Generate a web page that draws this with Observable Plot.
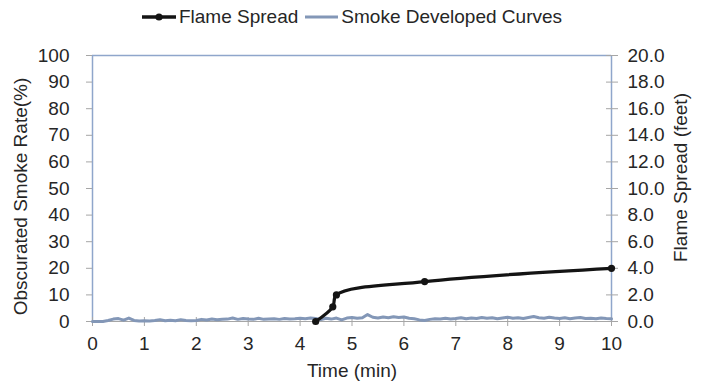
<!DOCTYPE html>
<html>
<head>
<meta charset="utf-8">
<script src="https://cdn.jsdelivr.net/npm/d3@7"></script>
<script src="https://cdn.jsdelivr.net/npm/@observablehq/plot@0.6"></script>
<style>
  body { margin: 0; background: #fff; font-family: "Liberation Sans", Arial, sans-serif; color: #262626; }
  #legend { width: 704px; height: 36px; display: flex; justify-content: center; align-items: center;
            padding-bottom: 3px; box-sizing: border-box; font-size: 19px; }
  #legend .item { display: flex; align-items: center; }
  #legend .item + .item { margin-left: 7px; }
  #legend svg { margin-right: 3px; }
</style>
</head>
<body>
<div id="legend"></div>
<div id="chart"></div>
<script>
// Elapsed test time (min) and obscured smoke rate (%)
const smokeTime = d3.range(0, 101).map(i => i / 10);
const smokeRate = [
  0, 0, 0, 0.4, 0.9, 1.1, 0.5, 1.3, 0.4, 0.2,
  0.3, 0.2, 0.4, 0.7, 0.3, 0.5, 0.3, 0.7, 0.4, 0.3,
  0.4, 0.8, 0.6, 0.9, 0.7, 0.8, 0.9, 1.3, 0.8, 1.1,
  0.9, 0.8, 1.2, 0.8, 0.9, 1.0, 0.8, 1.1, 0.9, 1.0,
  1.2, 1.0, 1.3, 1.1, 0.7, 1.2, 0.9, 1.3, 0.6, 1.3,
  1.5, 1.2, 1.4, 2.6, 1.6, 1.3, 1.7, 1.4, 1.8, 1.5,
  1.7, 1.2, 1.0, 0.6, 0.4, 0.8, 1.0, 0.9, 1.2, 0.9,
  1.1, 1.4, 1.0, 1.3, 1.1, 1.5, 1.2, 1.4, 1.0, 1.3,
  1.6, 1.2, 1.4, 1.1, 1.5, 1.9, 1.4, 1.2, 1.6, 1.3,
  1.1, 1.4, 1.0, 1.3, 1.5, 1.1, 1.2, 1.0, 1.3, 1.1,
  1.0
];

// Flame front position (feet) at the recorded times (min)
const flameTime = [4.3, 4.63, 4.7, 6.4, 10];
const flameFeet = [0, 1.1, 2.0, 3.0, 4.0];

// Axis ticks
const timeTicks = d3.range(0, 11);
const rateTicks = d3.range(0, 101, 10);
const feetPerPercent = 20 / 100; // right axis 0–20 ft over left axis 0–100 %

const seriesNames = ["Flame Spread", "Smoke Developed Curves"];
const titles = { x: "Time (min)", left: "Obscurated Smoke Rate(%)", right: "Flame Spread (feet)" };

const smoke = smokeTime.map((t, i) => ({ t, v: smokeRate[i] }));
const flame = flameTime.map((t, i) => ({ t, ft: flameFeet[i] }));

const flameColor = "#141414";
const smokeColor = "#8397B7";
const frameColor = "#8FA6CB";
const tickColor = "#A6A6A6";
const font = "'Liberation Sans', Arial, sans-serif";

// Legend
const legend = document.getElementById("legend");
legend.innerHTML = `
  <span class="item"><svg width="34" height="10"><line x1="0" x2="34" y1="5" y2="5" stroke="${flameColor}" stroke-width="3.4"/><circle cx="17" cy="5" r="3.6" fill="${flameColor}"/></svg>${seriesNames[0]}</span>
  <span class="item"><svg width="33" height="10"><line x1="0" x2="33" y1="5" y2="5" stroke="${smokeColor}" stroke-width="3"/></svg>${seriesNames[1]}</span>`;

const chart = Plot.plot({
  width: 704,
  height: 354,
  marginTop: 19,
  marginBottom: 69,
  marginLeft: 92,
  marginRight: 93,
  style: { fontFamily: font, fontSize: "19px", color: "#262626", background: "#fff", overflow: "visible" },
  x: { domain: [0, 10] },
  y: { domain: [0, 100] },
  marks: [
    Plot.ruleY([0], { stroke: tickColor }),
    Plot.ruleY([100], { stroke: frameColor, strokeWidth: 1.5 }),
    Plot.ruleX([0, 10], { stroke: frameColor, strokeWidth: 1.5 }),
    // x axis: crossing ticks, then labels
    Plot.axisX({ ticks: timeTicks, tickSize: 9, dy: -4, fill: "none", stroke: tickColor, label: null }),
    Plot.axisX({ ticks: timeTicks, tickSize: 0, tickPadding: 15, tickFormat: d => String(d), label: null }),
    // left axis (%)
    Plot.axisY({ anchor: "left", ticks: rateTicks, tickSize: 6, tickPadding: 17, stroke: tickColor, tickFormat: d => String(d), label: null }),
    // right axis (feet): crossing ticks, then labels
    Plot.axisY({ anchor: "right", ticks: rateTicks, tickSize: 12, dx: -6, fill: "none", stroke: tickColor, label: null }),
    Plot.axisY({ anchor: "right", ticks: rateTicks, tickSize: 0, tickPadding: 16, tickFormat: d => (d * feetPerPercent).toFixed(1), label: null }),
    Plot.line(smoke, { x: "t", y: "v", stroke: smokeColor, strokeWidth: 3 }),
    Plot.line(flame, { x: "t", y: d => d.ft / feetPerPercent, curve: "catmull-rom", stroke: flameColor, strokeWidth: 3.2 }),
    Plot.dot(flame, { x: "t", y: d => d.ft / feetPerPercent, r: 3.6, fill: flameColor }),
    Plot.text([titles.x], { frameAnchor: "bottom", dy: 55, textAnchor: "middle", fill: "#262626" }),
    Plot.text([titles.left], { frameAnchor: "left", dx: -72, dy: 8, rotate: -90, textAnchor: "middle", fill: "#262626" }),
    Plot.text([titles.right], { frameAnchor: "right", dx: 69, dy: -11, rotate: -90, textAnchor: "middle", fill: "#262626" })
  ]
});
document.getElementById("chart").appendChild(chart);
</script>
</body>
</html>
